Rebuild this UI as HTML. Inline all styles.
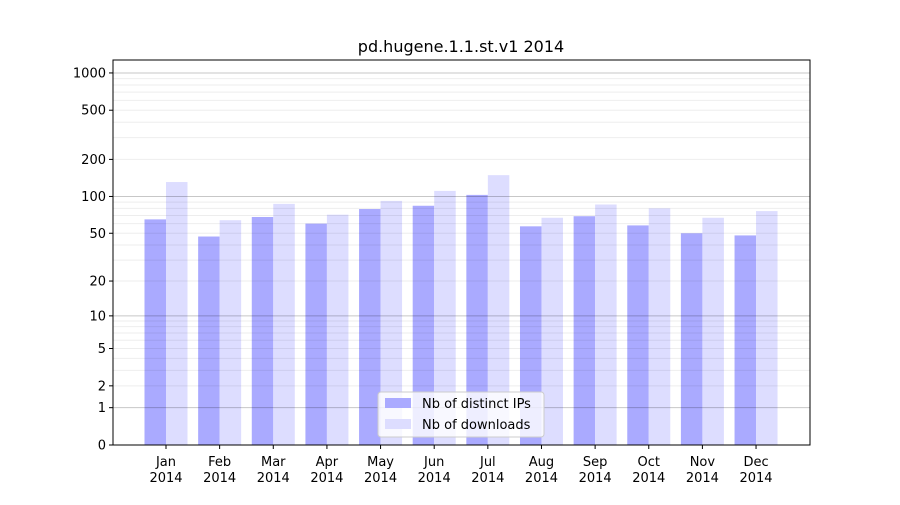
<!DOCTYPE html>
<html><head><meta charset="utf-8"><style>
body{margin:0;background:#fff;font-family:"Liberation Sans","DejaVu Sans",sans-serif}
svg text{font-family:"DejaVu Sans","Liberation Sans",sans-serif}
</style></head><body>
<svg id="chart" width="900" height="500" viewBox="0 0 900 500" xmlns="http://www.w3.org/2000/svg">
<rect width="900" height="500" fill="#fff"/>
<text x="461" y="52" font-size="16" text-anchor="middle">pd.hugene.1.1.st.v1 2014</text>
<g id="bars"></g><g id="grid"></g><g id="axes"></g>
</svg>
<script>
const months=["Jan","Feb","Mar","Apr","May","Jun","Jul","Aug","Sep","Oct","Nov","Dec"];
const distinctIPs=[65,47,68,60,79,84,103,57,69,58,50,48];
const downloads=[131,64,87,71,92,111,149,67,86,80,67,76];
const yTicks=[0,1,2,5,10,20,50,100,200,500,1000];
const NS="http://www.w3.org/2000/svg";
const L=113,R=810,T=60,B=445;
function y(v){return B-124*Math.log10(1+v);}
function xc(i){return 166+i*53.64;}
function mk(tag,attrs,parent,txt){const e=document.createElementNS(NS,tag);for(const k in attrs)e.setAttribute(k,attrs[k]);if(txt!==undefined)e.textContent=txt;document.getElementById(parent).appendChild(e);return e;}
const bw=21.5;
months.forEach((m,i)=>{
 let b=mk('rect',{x:xc(i)-bw,y:y(distinctIPs[i]),width:bw,height:B-y(distinctIPs[i]),fill:'#aaaaff'},'bars');
 
 
 let d=mk('rect',{x:xc(i),y:y(downloads[i]),width:bw,height:B-y(downloads[i]),fill:'#ddddff'},'bars');
 
 
 let t=mk('text',{x:xc(i),y:466,'font-size':13,'text-anchor':'middle'},'axes',m);
 
 
 mk('text',{x:xc(i),y:482,'font-size':13,'text-anchor':'middle'},'axes','2014');
 mk('line',{x1:xc(i),x2:xc(i),y1:B,y2:B+4,stroke:'#000'},'axes');
});
[1,10,100,1000].forEach(d=>{for(let k=2;k<10;k++){const v=d*k;if(y(v)<T)continue;mk('line',{x1:L,x2:R,y1:y(v),y2:y(v),stroke:'#000','stroke-opacity':0.07},'grid');}});
[1,10,100,1000].forEach(v=>mk('line',{x1:L,x2:R,y1:y(v),y2:y(v),stroke:'#000','stroke-opacity':0.22},'grid'));
yTicks.forEach(v=>{
 mk('line',{x1:L-4,x2:L,y1:y(v),y2:y(v),stroke:'#000'},'axes');
 let t=mk('text',{x:L-7,y:y(v)+4.5,'font-size':13,'text-anchor':'end'},'axes',String(v));
 
 
});
let f=mk('rect',{x:L,y:T,width:R-L,height:B-T,fill:'none',stroke:'#000','stroke-width':1},'axes');


let lg=mk('g',{},'axes');


mk('rect',{x:378,y:392,width:166,height:45,rx:3,fill:'#fff','fill-opacity':0.8,stroke:'#ccc'},'axes');
mk('rect',{x:385,y:398,width:26,height:10,fill:'#aaaaff'},'axes');
mk('rect',{x:385,y:419,width:26,height:10,fill:'#ddddff'},'axes');
mk('text',{x:422,y:408,'font-size':13},'axes','Nb of distinct IPs');
mk('text',{x:422,y:429,'font-size':13},'axes','Nb of downloads');
</script>
</body></html>
